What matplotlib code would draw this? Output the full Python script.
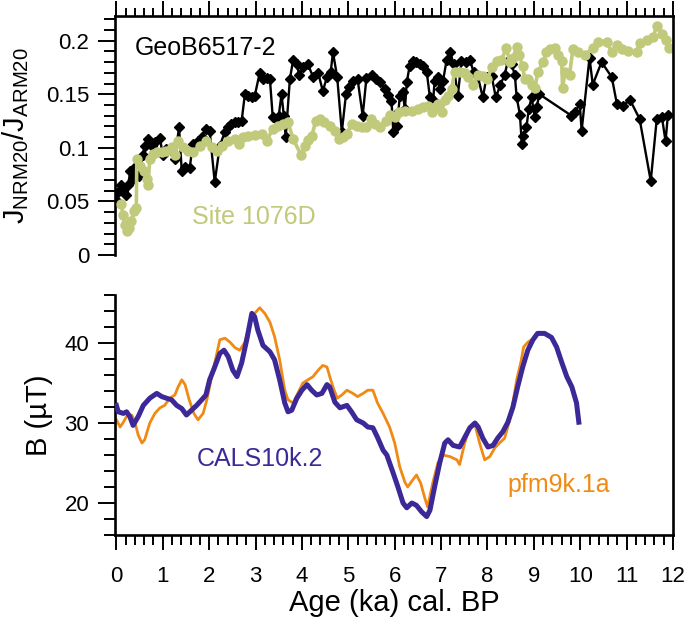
import matplotlib
matplotlib.use('Agg')
import matplotlib.pyplot as plt
from matplotlib.ticker import MultipleLocator
from matplotlib.lines import Line2D

plt.rcParams['font.family'] = ['Liberation Sans', 'DejaVu Sans']
plt.rcParams['mathtext.fontset'] = 'custom'
plt.rcParams['mathtext.rm'] = 'Liberation Sans'
plt.rcParams['mathtext.it'] = 'Liberation Sans:italic'
plt.rcParams['mathtext.bf'] = 'Liberation Sans:bold'

# GeoB6517-2, JNRM20/JARM20
geob_age = [0.0, 0.03, 0.1, 0.14, 0.2, 0.25, 0.3, 0.36, 0.42, 0.48, 0.57, 0.61, 0.69,
            0.76, 0.83, 0.94, 1.0, 1.08, 1.19, 1.26, 1.35, 1.41, 1.48, 1.58, 1.65,
            1.76, 1.84, 1.93, 2.01, 2.12, 2.23, 2.34, 2.41, 2.48, 2.56, 2.62, 2.7,
            2.77, 2.84, 2.92, 2.98, 3.09, 3.16, 3.24, 3.31, 3.37, 3.44, 3.5, 3.56,
            3.61, 3.65, 3.74, 3.81, 3.89, 3.94, 4.03, 4.13, 4.24, 4.35, 4.45, 4.54,
            4.62, 4.67, 4.76, 4.86, 4.95, 5.02, 5.1, 5.2, 5.31, 5.39, 5.5, 5.6,
            5.68, 5.79, 5.86, 5.93, 5.97, 6.02, 6.05, 6.11, 6.17, 6.22, 6.26, 6.32,
            6.4, 6.47, 6.54, 6.61, 6.69, 6.76, 6.83, 6.86, 6.93, 6.97, 7.04, 7.12,
            7.2, 7.27, 7.36, 7.44, 7.53, 7.62, 7.7, 7.79, 7.9, 7.98, 8.09, 8.18,
            8.28, 8.37, 8.44, 8.52, 8.59, 8.63, 8.7, 8.74, 8.77, 8.84, 8.89, 8.95,
            9.02, 9.06, 9.12, 9.81, 9.88, 9.99, 10.03, 10.2, 10.27, 10.46, 10.68,
            10.79, 10.92, 11.07, 11.28, 11.52, 11.65, 11.76, 11.84, 11.89]
geob_ratio = [0.051, 0.059, 0.065, 0.060, 0.056, 0.065, 0.078, 0.071, 0.083, 0.074,
              0.093, 0.102, 0.108, 0.102, 0.105, 0.109, 0.093, 0.099, 0.097, 0.090,
              0.119, 0.078, 0.082, 0.081, 0.104, 0.106, 0.110, 0.118, 0.116, 0.068,
              0.102, 0.115, 0.119, 0.122, 0.124, 0.124, 0.125, 0.150, 0.148, 0.147,
              0.148, 0.170, 0.164, 0.165, 0.164, 0.129, 0.127, 0.130, 0.150, 0.130,
              0.110, 0.164, 0.182, 0.178, 0.168, 0.175, 0.178, 0.166, 0.170, 0.153,
              0.166, 0.171, 0.189, 0.166, 0.115, 0.150, 0.157, 0.162, 0.164, 0.130,
              0.165, 0.168, 0.164, 0.161, 0.155, 0.149, 0.144, 0.115, 0.132, 0.120,
              0.148, 0.152, 0.136, 0.161, 0.176, 0.181, 0.180, 0.178, 0.176, 0.171,
              0.147, 0.145, 0.162, 0.166, 0.155, 0.162, 0.182, 0.189, 0.178, 0.148,
              0.181, 0.180, 0.182, 0.171, 0.167, 0.147, 0.166, 0.167, 0.147, 0.159,
              0.168, 0.181, 0.178, 0.168, 0.147, 0.131, 0.104, 0.111, 0.119, 0.136,
              0.147, 0.129, 0.138, 0.150, 0.130, 0.133, 0.141, 0.116, 0.184, 0.159,
              0.180, 0.166, 0.141, 0.139, 0.145, 0.127, 0.069, 0.127, 0.129, 0.106,
              0.131]

# Site 1076D
site_age = [0.11, 0.14, 0.18, 0.22, 0.27, 0.32, 0.38, 0.43, 0.44, 0.5, 0.6, 0.65,
            0.68, 0.72, 0.78, 0.87, 0.98, 1.08, 1.19, 1.26, 1.33, 1.44, 1.55, 1.65,
            1.8, 1.93, 2.06, 2.16, 2.27, 2.41, 2.56, 2.64, 2.73, 2.84, 2.98, 3.13,
            3.24, 3.37, 3.48, 3.59, 3.7, 3.81, 3.99, 4.06, 4.13, 4.21, 4.3, 4.38,
            4.47, 4.6, 4.71, 4.8, 4.88, 4.97, 5.07, 5.18, 5.29, 5.39, 5.48, 5.57,
            5.68, 5.81, 5.9, 6.0, 6.1, 6.22, 6.37, 6.5, 6.61, 6.71, 6.8, 6.86, 6.93,
            7.01, 7.08, 7.15, 7.23, 7.29, 7.4, 7.51, 7.58, 7.69, 7.79, 7.9, 8.0,
            8.09, 8.2, 8.3, 8.41, 8.48, 8.55, 8.63, 8.68, 8.76, 8.8, 8.87, 8.95,
            9.02, 9.09, 9.2, 9.27, 9.34, 9.45, 9.52, 9.6, 9.62, 9.67, 9.77, 9.84,
            9.95, 10.1, 10.28, 10.38, 10.57, 10.68, 10.79, 10.9, 11.03, 11.22,
            11.28, 11.43, 11.57, 11.65, 11.76, 11.84, 11.92]
site_ratio = [0.048, 0.037, 0.028, 0.022, 0.025, 0.032, 0.041, 0.044, 0.090, 0.083,
              0.078, 0.071, 0.065, 0.090, 0.094, 0.096, 0.096, 0.097, 0.101, 0.093,
              0.106, 0.101, 0.097, 0.096, 0.102, 0.106, 0.101, 0.097, 0.102, 0.106,
              0.108, 0.104, 0.110, 0.111, 0.112, 0.113, 0.106, 0.118, 0.120, 0.122,
              0.124, 0.108, 0.093, 0.102, 0.107, 0.111, 0.125, 0.127, 0.124, 0.120,
              0.116, 0.108, 0.110, 0.113, 0.122, 0.120, 0.119, 0.119, 0.127, 0.122,
              0.119, 0.125, 0.131, 0.129, 0.133, 0.134, 0.134, 0.136, 0.138, 0.139,
              0.133, 0.138, 0.141, 0.133, 0.145, 0.148, 0.155, 0.171, 0.171, 0.170,
              0.166, 0.159, 0.168, 0.167, 0.164, 0.175, 0.181, 0.182, 0.193, 0.180,
              0.184, 0.194, 0.187, 0.176, 0.164, 0.164, 0.159, 0.156, 0.171, 0.180,
              0.189, 0.192, 0.193, 0.187, 0.181, 0.156, 0.171, 0.168, 0.192, 0.189,
              0.187, 0.193, 0.199, 0.199, 0.189, 0.196, 0.192, 0.190, 0.189, 0.198,
              0.201, 0.203, 0.214, 0.206, 0.201, 0.193]

# CALS10k.2 field intensity (uT)
cals_age = [0.0, 0.04, 0.15, 0.22, 0.29, 0.36, 0.47, 0.58, 0.72, 0.87, 0.98, 1.08,
            1.19, 1.3, 1.41, 1.51, 1.62, 1.73, 1.84, 1.93, 2.01, 2.12, 2.23, 2.32,
            2.41, 2.51, 2.6, 2.7, 2.81, 2.92, 2.98, 3.05, 3.16, 3.31, 3.41, 3.52,
            3.63, 3.7, 3.78, 3.89, 4.0, 4.11, 4.21, 4.32, 4.43, 4.54, 4.6, 4.71,
            4.82, 4.97, 5.07, 5.18, 5.32, 5.42, 5.53, 5.63, 5.75, 5.83, 5.97, 6.07,
            6.18, 6.26, 6.37, 6.47, 6.58, 6.69, 6.76, 6.86, 6.97, 7.08, 7.15, 7.26,
            7.4, 7.51, 7.62, 7.73, 7.8, 7.9, 8.01, 8.12, 8.22, 8.33, 8.44, 8.55,
            8.65, 8.76, 8.87, 8.98, 9.08, 9.23, 9.38, 9.49, 9.6, 9.71, 9.82, 9.92,
            9.97]
cals_b = [32.2, 31.4, 31.2, 31.4, 30.8, 29.7, 30.8, 32.2, 33.1, 33.7, 33.3, 33.1,
          32.9, 32.2, 31.8, 31.0, 31.6, 32.2, 32.9, 33.5, 35.4, 37.0, 38.7, 39.1,
          38.3, 36.6, 35.8, 37.5, 40.4, 43.7, 43.3, 41.6, 39.7, 38.9, 37.9, 35.4,
          32.5, 31.4, 31.6, 33.1, 34.1, 34.8, 34.1, 33.5, 33.7, 34.8, 34.5, 32.6,
          31.9, 32.2, 31.4, 30.4, 30.0, 29.5, 29.4, 28.2, 26.6, 26.0, 23.7, 22.0,
          20.0, 19.4, 20.0, 19.7, 18.9, 18.3, 19.1, 22.0, 25.0, 27.5, 27.9, 27.2,
          27.0, 28.2, 29.4, 30.0, 29.5, 28.1, 27.0, 27.2, 28.1, 28.9, 30.1, 32.0,
          34.5, 37.0, 39.1, 40.4, 41.2, 41.2, 40.7, 39.5, 37.6, 35.8, 34.5, 32.5,
          30.1]

# pfm9k.1a field intensity (uT)
pfm_age = [0.0, 0.08, 0.15, 0.22, 0.33, 0.4, 0.47, 0.55, 0.61, 0.72, 0.83, 0.94,
           1.04, 1.15, 1.26, 1.33, 1.41, 1.48, 1.57, 1.67, 1.76, 1.87, 1.95, 2.03,
           2.12, 2.23, 2.34, 2.45, 2.56, 2.66, 2.77, 2.88, 2.98, 3.09, 3.2, 3.31,
           3.41, 3.52, 3.63, 3.7, 3.81, 3.91, 4.02, 4.13, 4.24, 4.35, 4.45, 4.54,
           4.6, 4.67, 4.76, 4.86, 4.97, 5.1, 5.2, 5.32, 5.42, 5.53, 5.63, 5.75,
           5.89, 6.0, 6.11, 6.22, 6.28, 6.39, 6.47, 6.56, 6.65, 6.71, 6.82, 6.93,
           7.04, 7.19, 7.34, 7.4, 7.51, 7.62, 7.73, 7.83, 7.94, 8.05, 8.16, 8.26,
           8.37, 8.48, 8.55, 8.63, 8.72, 8.78, 8.87, 8.95]
pfm_b = [30.4, 29.5, 30.1, 30.8, 31.0, 30.1, 28.5, 27.5, 27.9, 30.0, 31.2, 31.9,
         32.2, 33.1, 33.5, 34.5, 35.4, 34.8, 32.9, 31.2, 30.4, 31.2, 32.9, 35.1,
         37.5, 40.4, 40.6, 40.1, 39.4, 39.1, 40.1, 42.5, 43.7, 44.4, 43.7, 42.6,
         40.8, 37.9, 34.1, 32.9, 32.5, 33.7, 35.0, 35.4, 35.8, 36.6, 37.2, 37.0,
         35.8, 34.5, 33.1, 33.5, 34.1, 33.7, 33.3, 33.7, 34.1, 34.1, 32.5, 31.2,
         29.5, 27.5, 24.5, 22.6, 22.0, 22.9, 23.5, 22.5, 20.6, 19.5, 22.5, 25.0,
         26.0, 25.8, 25.4, 24.8, 27.5, 29.5, 29.8, 27.5, 25.4, 25.8, 26.9, 27.5,
         28.1, 30.4, 32.6, 35.4, 37.6, 39.5, 40.1, 40.4]

age_ticks = list(range(0, 13))

green = '#c1c97a'
orange = '#f08a14'
purple = '#3c2896'

fig = plt.figure(figsize=(6.85, 6.2), dpi=100)
left = 115 / 685
width = 558 / 685
axTop = fig.add_axes([left, 1 - 255 / 620, width, 239 / 620])
axBot = fig.add_axes([left, 1 - 535 / 620, width, 240 / 620])

# top panel: relative paleointensity
axTop.plot(geob_age, geob_ratio, '-', color='black', lw=1.7,
           marker='D', markersize=5, zorder=2)
axTop.plot(site_age, site_ratio, '-', color=green, lw=2.6,
           marker='o', markersize=7.5, markeredgewidth=0, zorder=3)
axTop.set_xlim(-0.03, 12)
axTop.set_ylim(0, 0.223)
axTop.spines['bottom'].set_visible(False)
axTop.spines['right'].set_visible(False)
axTop.xaxis.tick_top()
axTop.set_xticks(age_ticks)
axTop.xaxis.set_minor_locator(MultipleLocator(0.2))
axTop.tick_params(axis='x', which='major', direction='out', length=11, width=1.4,
                  labeltop=False)
axTop.tick_params(axis='x', which='minor', direction='out', length=5.5, width=1.4)
axTop.yaxis.set_minor_locator(MultipleLocator(0.01))
axTop.set_yticks([0, 0.05, 0.1, 0.15, 0.2])
axTop.set_yticklabels(['0', '0.05', '0.1', '0.15', '0.2'])
axTop.set_ylabel(r'J$_{\mathrm{NRM20}}$/J$_{\mathrm{ARM20}}$', fontsize=21)
axTop.yaxis.set_label_coords(-0.15, 0.5)
axTop.text(0.036, 0.837, 'GeoB6517-2', transform=axTop.transAxes,
           fontsize=18, color='black', va='baseline')
axTop.text(0.138, 0.13, 'Site 1076D', transform=axTop.transAxes,
           fontsize=18, color=green, va='baseline')

# bottom panel: field models
axBot.plot(pfm_age, pfm_b, '-', color=orange, lw=2.0, zorder=2)
axBot.plot(cals_age, cals_b, '-', color=purple, lw=3.6, zorder=3)
axBot.set_xlim(-0.03, 12)
axBot.set_ylim(16, 46)
axBot.spines['top'].set_visible(False)
axBot.spines['right'].set_visible(False)
axBot.set_xticks(age_ticks)
axBot.xaxis.set_minor_locator(MultipleLocator(0.2))
axBot.set_yticks([20, 30, 40])
axBot.yaxis.set_minor_locator(MultipleLocator(2))
axBot.tick_params(axis='x', which='major', direction='out', length=11, width=1.4,
                  pad=11)
axBot.tick_params(axis='x', which='minor', direction='out', length=7, width=1.4)
axBot.set_xlabel('Age (ka) cal. BP', fontsize=21, labelpad=2)
axBot.set_ylabel('B (\u00b5T)', fontsize=21)
axBot.yaxis.set_label_coords(-0.112, 0.5)
axBot.text(0.147, 0.2875, 'CALS10k.2', transform=axBot.transAxes,
           fontsize=18, color=purple, va='baseline')
axBot.text(0.704, 0.179, 'pfm9k.1a', transform=axBot.transAxes,
           fontsize=18, color=orange, va='baseline')

for ax in (axTop, axBot):
    for side in ('left', 'top', 'bottom'):
        ax.spines[side].set_linewidth(1.9)
    ax.tick_params(axis='y', which='major', direction='out', length=12.5, width=1.4,
                   pad=6, labelsize=16)
    ax.tick_params(axis='y', which='minor', direction='out', length=8, width=1.4)
    ax.tick_params(axis='x', labelsize=16)

# one right-hand frame line running through both panels
xr = 673 / 685
fig.add_artist(Line2D([xr, xr], [1 - 16 / 620, 1 - 535 / 620],
                      transform=fig.transFigure, color='black', lw=1.9))

fig.savefig('out.png', dpi=100)
